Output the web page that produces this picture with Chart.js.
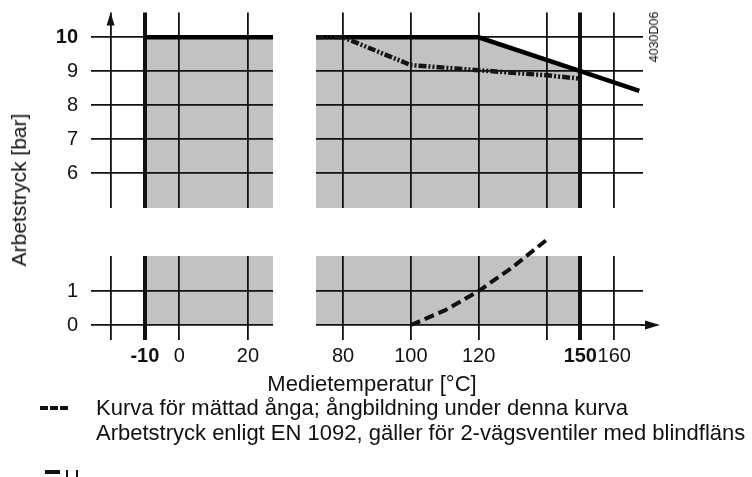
<!DOCTYPE html>
<html>
<head>
<meta charset="utf-8">
<script src="https://cdn.jsdelivr.net/npm/chart.js@4.4.0/dist/chart.umd.min.js"></script>
<style>
  body { margin: 0; width: 752px; height: 477px; overflow: hidden; background: #fff; position: relative;
         font-family: "Liberation Sans", Arial, sans-serif; color: #111; }
  canvas { position: absolute; }
  .txt { position: absolute; white-space: nowrap; }
</style>
</head>
<body>
<canvas id="tl" width="290" height="215" style="left:0;top:0"></canvas>
<canvas id="tr" width="462" height="215" style="left:290px;top:0"></canvas>
<canvas id="bl" width="290" height="160" style="left:0;top:230px"></canvas>
<canvas id="br" width="462" height="160" style="left:290px;top:230px"></canvas>

<div class="txt" style="left:19px;top:190px;font-size:21px;transform:translate(-50%,-50%) rotate(-90deg)">Arbetstryck [bar]</div>
<div class="txt" style="left:372px;top:384px;font-size:22px;transform:translate(-50%,-50%)">Medietemperatur [°C]</div>
<div class="txt" style="left:654px;top:37px;font-size:12.5px;transform:translate(-50%,-50%) rotate(-90deg)">4030D06</div>

<div style="position:absolute;left:40px;top:406px;width:28px;border-top:4px dashed #111"></div>
<div class="txt" style="left:96px;top:408px;font-size:22px;transform:translateY(-50%)">Kurva för mättad ånga; ångbildning under denna kurva</div>
<div class="txt" style="left:96px;top:433px;font-size:22px;transform:translateY(-50%)">Arbetstryck enligt EN 1092, gäller för 2-vägsventiler med blindfläns</div>
<div style="position:absolute;left:45px;top:470px;width:15px;height:4px;background:#111"></div>
<div style="position:absolute;left:66px;top:470px;width:2px;height:7px;background:#111"></div>
<div style="position:absolute;left:76px;top:470px;width:2px;height:7px;background:#111"></div>

<script>
// axis ticks (the temperature axis is broken in two parts, the pressure axis too)
const tempTicksLeft = [-20, -10, 0, 20];
const tempLabelsLeft = ['', '-10', '0', '20'];
const tempTicksRight = [80, 100, 120, 140, 150, 160];
const tempLabelsRight = ['80', '100', '120', '', '150', '160'];
const pressTicksTop = [6, 7, 8, 9, 10];
const pressTicksBottom = [0, 1];

// PN 10 pressure limit
const pnTempLeft = [-10, 27.3];
const pnPressLeft = [10, 10];
const pnTempRight = [72, 120, 150, 167.4];
const pnPressRight = [10, 10, 9, 8.42];

// grey working range (up to 150 °C)
const rangeTempRight = [72, 120, 150];
const rangePressRight = [10, 10, 9];

// working pressure EN 1092 (dash-dot)
const enTemp = [72, 80, 100, 120, 140, 150];
const enPress = [10, 10, 9.18, 9.03, 8.88, 8.78];

// saturated steam curve (dashed)
const steamTemp = [100, 110, 120, 130, 140];
const steamPress = [0, 0.43, 1.0, 1.7, 2.5];

const INK = '#111';
const GREY = '#c2c2c2';
const FONT = '"Liberation Sans", Arial, sans-serif';
const boldTicks = [10, -10, 150];

const pts = (xs, ys) => xs.map((x, i) => ({ x, y: ys[i] }));

const arrows = {
  id: 'arrows',
  afterDraw(chart, args, opts) {
    const ctx = chart.ctx, xs = chart.scales.x, ys = chart.scales.y;
    ctx.save();
    ctx.fillStyle = INK;
    if (opts.up !== undefined) {
      const x = xs.getPixelForValue(opts.up), y = chart.chartArea.top;
      ctx.beginPath();
      ctx.moveTo(x, y); ctx.lineTo(x - 4, y + 13); ctx.lineTo(x + 4, y + 13);
      ctx.fill();
    }
    if (opts.right !== undefined) {
      const y = ys.getPixelForValue(opts.right), x = chart.chartArea.right;
      ctx.strokeStyle = INK; ctx.lineWidth = 1.8;
      ctx.beginPath(); ctx.moveTo(x - 2, y); ctx.lineTo(x + 4, y); ctx.stroke();
      ctx.beginPath();
      ctx.moveTo(x + 17, y); ctx.lineTo(x + 2, y - 4.5); ctx.lineTo(x + 2, y + 4.5);
      ctx.fill();
    }
    ctx.restore();
  }
};

function noPad(s) {
  s.paddingLeft = 0; s.paddingRight = 0; s.paddingTop = 0; s.paddingBottom = 0;
}

function panel(id, cfg) {
  new Chart(document.getElementById(id), {
    type: 'line',
    data: { datasets: cfg.datasets },
    plugins: [arrows],
    options: {
      responsive: false,
      animation: false,
      layout: { padding: cfg.padding },
      elements: { point: { radius: 0 }, line: { tension: 0 } },
      plugins: {
        legend: { display: false },
        tooltip: { enabled: false },
        filler: { drawTime: 'beforeDraw' },
        arrows: cfg.arrows || {}
      },
      scales: {
        x: {
          type: 'linear', min: cfg.xMin, max: cfg.xMax,
          afterBuildTicks: s => { s.ticks = cfg.xTicks.map(v => ({ value: v })); },
          afterFit: s => { s.height = cfg.xHeight; noPad(s); },
          border: { display: false },
          grid: {
            drawTicks: false, color: INK,
            lineWidth: c => boldTicks.includes(c.tick.value) ? 4 : 1.8
          },
          ticks: {
            display: !!cfg.xLabels, padding: 4, color: INK, maxRotation: 0, autoSkip: false,
            callback: (v, i) => cfg.xLabels ? cfg.xLabels[i] : '',
            font: c => ({ family: FONT, size: 20, weight: c.tick && boldTicks.includes(c.tick.value) ? 'bold' : 'normal' })
          }
        },
        y: {
          type: 'linear', min: cfg.yMin, max: cfg.yMax,
          afterBuildTicks: s => { s.ticks = cfg.yTicks.map(v => ({ value: v })); },
          afterFit: s => { s.width = cfg.yWidth; noPad(s); },
          border: { display: false },
          grid: { drawTicks: false, color: INK, lineWidth: 1.8 },
          ticks: {
            display: cfg.yLabels, padding: 13, color: INK, autoSkip: false,
            font: c => ({ family: FONT, size: 20, weight: c.tick && boldTicks.includes(c.tick.value) ? 'bold' : 'normal' })
          }
        }
      }
    }
  });
}

const greyLeft = () => ({ data: pts(pnTempLeft, pnPressLeft), borderWidth: 0, fill: 'origin', backgroundColor: GREY });
const greyRight = () => ({ data: pts(rangeTempRight, rangePressRight), borderWidth: 0, fill: 'origin', backgroundColor: GREY });
const pnLeft = { data: pts(pnTempLeft, pnPressLeft), borderColor: '#000', borderWidth: 4.5, fill: false };
const pnRight = { data: pts(pnTempRight, pnPressRight), borderColor: '#000', borderWidth: 4.5, fill: false };
const en = { data: pts(enTemp, enPress), borderColor: '#151515', borderWidth: 4.5, borderDash: [8, 2, 2, 2, 2, 2], fill: false };
const steam = { data: pts(steamTemp, steamPress), borderColor: INK, borderWidth: 4, borderDash: [10, 5], fill: false, clip: false };

const leftPart = { xMin: -25.7, xMax: 27.3, xTicks: tempTicksLeft, yWidth: 91, yLabels: true };
const rightPart = { xMin: 72, xMax: 168.5, xTicks: tempTicksRight, yWidth: 26, yLabels: false };
const topPart = { yMin: 4.97, yMax: 10.73, yTicks: pressTicksTop, xHeight: 0 };
const bottomPart = { yMin: -0.44, yMax: 2.03, yTicks: pressTicksBottom, xHeight: 50 };

panel('tl', { ...leftPart, ...topPart, padding: { top: 12.5, right: 17, bottom: 7, left: 0 },
  datasets: [greyLeft(), pnLeft], arrows: { up: -20 } });
panel('tr', { ...rightPart, ...topPart, padding: { top: 12.5, right: 109, bottom: 7, left: 0 },
  datasets: [greyRight(), en, pnRight] });
panel('bl', { ...leftPart, ...bottomPart, xLabels: tempLabelsLeft, padding: { top: 26, right: 17, bottom: 0, left: 0 },
  datasets: [greyLeft()] });
panel('br', { ...rightPart, ...bottomPart, xLabels: tempLabelsRight, padding: { top: 26, right: 109, bottom: 0, left: 0 },
  datasets: [greyRight(), steam], arrows: { right: 0 } });
</script>
</body>
</html>
